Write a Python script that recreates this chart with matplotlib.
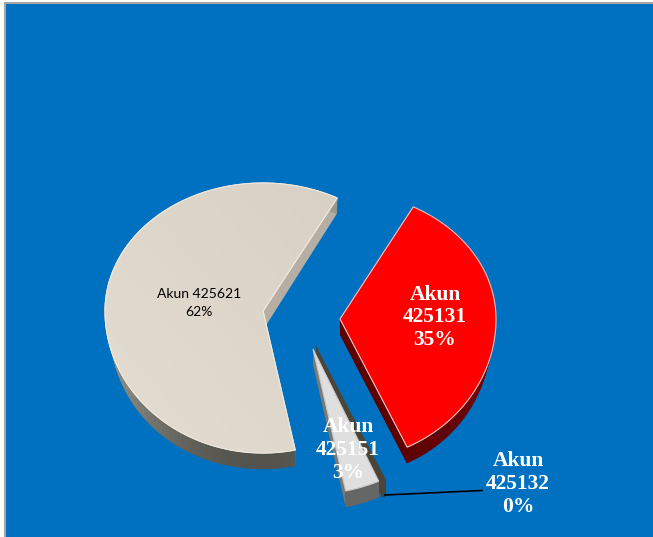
import numpy as np
import matplotlib
matplotlib.use("Agg")
import matplotlib.pyplot as plt
from matplotlib.colors import to_rgb

labels = ["Akun\n425131\n35%", "Akun\n425132\n0%", "Akun\n425151\n3%", "Akun 425621\n62%"]
shares = [35.4, 0.35, 3.49, 61.5]
top_colors = ["#ff0000", "#4a4538", "#dfdfdf", "#ded6ca"]
edge_colors = ["#f4c8c8", "#4a4538", "#c8c8c8", "#eee8de"]
wall_near = ["#5a0000", "#4a4538", "#666666", "#55544c"]
wall_far = ["#7a0000", "#4a4538", "#666666", "#9a978c"]
cut_colors = ["#5c0000", "#4a4538", "#7a7a74", "#b6aea4"]

# apex x, apex y, rx, ry upper half, ry lower half
geom = [
    (340, 319, 156, 127, 142),
    (316, 347, 161, 147, 147),
    (313, 349, 160, 145, 145),
    (263, 311, 158, 128, 142),
]
depth = 16
shrink = 5  # lower rim is a bit narrower than the top
start_angle = 62


def outline(g, t, inset=0):
    cx, cy, rx, up, down = g
    s = np.sin(t)
    c = np.cos(t)
    return cx + (rx - inset * c ** 2) * c, cy - np.where(s > 0, up, down) * s


fig = plt.figure(figsize=(6.53, 5.37), dpi=100, facecolor="white")
ax = fig.add_axes([0, 0, 1, 1])
ax.set_xlim(0, 653)
ax.set_ylim(537, 0)
ax.axis("off")
ax.add_patch(plt.Rectangle((4.5, 2.5), 660, 550, facecolor="#0070c0", edgecolor="#a6a6a6", lw=1.5))

angles = start_angle - np.cumsum([0] + shares) / sum(shares) * 360
for i in [3, 0, 1, 2]:
    g = geom[i]
    t = np.radians(np.linspace(angles[i], angles[i + 1], 120))
    x, y = outline(g, t)
    xb, yb = outline(g, t, shrink)
    yb = yb + depth
    cx, cy = g[0], g[1]
    # cut faces
    apex_shift = 2 if i == 3 else 0
    for n in [0, -1]:
        ax.fill([cx, x[n], xb[n], cx + apex_shift], [cy, y[n], yb[n], cy + depth], color=cut_colors[i], lw=0)
    # outer wall, darker towards the front
    far = np.array(to_rgb(wall_far[i]))
    near = np.array(to_rgb(wall_near[i]))
    for j in range(len(t) - 1):
        k = max(0.0, -np.sin(t[j])) ** 2
        ax.fill([x[j], x[j + 1], xb[j + 1], xb[j]], [y[j], y[j + 1], yb[j + 1], yb[j]],
                color=far + (near - far) * k, lw=0.3)
    poly = ax.fill(np.r_[cx, x], np.r_[cy, y], facecolor=top_colors[i], edgecolor=edge_colors[i], lw=0.8)[0]
    if i == 3:
        # soft sheen on the big slice
        c0, c1 = np.array(to_rgb("#e4ddd2")), np.array(to_rgb("#d8d0c5"))
        u, v = np.meshgrid(np.linspace(0, 1, 80), np.linspace(0, 1, 80))
        w = ((u + (1 - v)) / 2)[..., None]
        im = ax.imshow(c0 + (c1 - c0) * w, extent=(104, 340, 455, 180), aspect="auto", zorder=poly.get_zorder())
        im.set_clip_path(poly)
        ax.set_xlim(0, 653)
        ax.set_ylim(537, 0)
        ax.fill(np.r_[cx, x], np.r_[cy, y], facecolor="none", edgecolor=edge_colors[i], lw=0.8)

serif = dict(family="Liberation Serif", fontweight="bold", color="white", fontsize=15.5,
             ha="center", va="center", linespacing=1.17)
ax.text(435, 317.5, labels[0], **serif)
ax.text(518, 484, labels[1], **serif)
ax.text(348, 450, labels[2], **serif)
ax.text(199, 303, labels[3], family="Lato", fontsize=10, color="black",
        ha="center", va="center", linespacing=1.6)
ax.plot([385, 482], [495, 490.5], color="black", lw=1.2)

fig.savefig("out.png", dpi=100)
